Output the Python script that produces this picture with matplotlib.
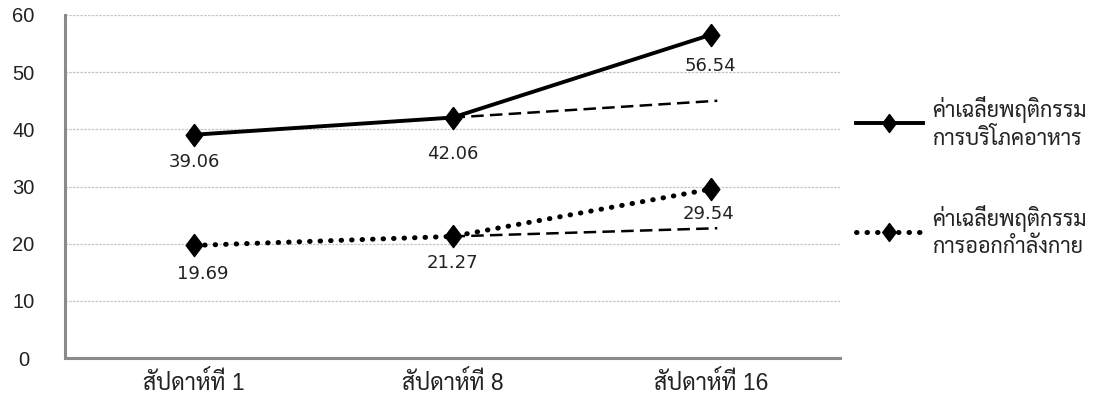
import matplotlib
matplotlib.use('Agg')
import os
import matplotlib.pyplot as plt
from matplotlib import font_manager
from matplotlib.ft2font import FT2Font
from matplotlib.lines import Line2D

# Data
weeks = ['สัปดาห์ที่ 1', 'สัปดาห์ที่ 8', 'สัปดาห์ที่ 16']
food = [39.06, 42.06, 56.54]
exercise = [19.69, 21.27, 29.54]
trend_x = [1, 2.025]
food_trend = [42.06, 45.0]
exercise_trend = [21.27, 22.7]
series_names = ['ค่าเฉลี่ยพฤติกรรม\nการบริโภคอาหาร', 'ค่าเฉลี่ยพฤติกรรม\nการออกกำลังกาย']
yticks = [0, 10, 20, 30, 40, 50, 60]


def find_thai_font():
    # pick an installed font with Thai glyphs, preferring plain looped faces
    thai = []
    for path in font_manager.findSystemFonts():
        try:
            cmap = FT2Font(path).get_charmap()
        except Exception:
            continue
        if 0x0E2A in cmap and 0x0E31 in cmap:
            thai.append(path)
    prefs = ['Sarabun-Regular', 'NotoSansThaiLooped-Regular', 'IBMPlexSansThaiLooped-Regular',
             'NotoSansThai-Regular', 'IBMPlexSansThai-Regular', 'BaiJamjuree-Regular']
    for pref in prefs:
        for p in thai:
            if os.path.basename(p).startswith(pref):
                return p
    for p in thai:
        if 'Regular' in p and 'unifont' not in p:
            return p
    return thai[0] if thai else None


thai_path = find_thai_font()
thai_fams = ['Liberation Sans', 'DejaVu Sans']
if thai_path:
    font_manager.fontManager.addfont(thai_path)
    thai_name = font_manager.FontProperties(fname=thai_path).get_name()
    thai_fams = ['Liberation Sans', thai_name, 'DejaVu Sans']
plt.rcParams['font.family'] = thai_fams

fig = plt.figure(figsize=(10.97, 3.99), dpi=100)
ax = fig.add_axes([65 / 1097, 41 / 399, 775 / 1097, 343 / 399])

diamond = [(0, 1), (0.75, 0), (0, -1), (-0.75, 0), (0, 1)]
x = list(range(len(weeks)))
ax.plot(x, food, color='black', linewidth=2.8, marker=diamond, markersize=16, zorder=3)
ax.plot(x, exercise, color='black', linewidth=3.6, linestyle=(0, (0.1, 2)),
        dash_capstyle='round', marker=diamond, markersize=16, zorder=3)
ax.plot(trend_x, food_trend, color='black', linewidth=1.8, linestyle=(0, (5, 2.5)), zorder=2)
ax.plot(trend_x, exercise_trend, color='black', linewidth=1.8, linestyle=(0, (5, 2.5)), zorder=2)

num_font = dict(fontsize=13, color='#222222', family='DejaVu Sans')
food_off = [-4.8, -6.4, -5.4]
ex_off = [-5.0, -4.7, -4.4]
ex_xoff = [0.035, 0.0, -0.01]
for i in x:
    ax.text(i, food[i] + food_off[i], f'{food[i]:.2f}', ha='center', va='center', **num_font)
    ax.text(i + ex_xoff[i], exercise[i] + ex_off[i], f'{exercise[i]:.2f}',
            ha='center', va='center', **num_font)

ax.set_xlim(-0.5, 2.5)
ax.set_ylim(0, 60)
ax.set_yticks(yticks)
ax.set_xticks(x)
ax.set_xticklabels(weeks, fontsize=16.5, color='#222222')
ax.tick_params(axis='y', length=0, pad=30, labelsize=14.5, labelcolor='#222222')
ax.tick_params(axis='x', length=0, pad=9)
for lbl in ax.get_yticklabels():
    lbl.set_horizontalalignment('center')

ax.grid(axis='y', color='#c4c4c4', linestyle=(0, (2, 1)), linewidth=0.9)
ax.set_axisbelow(True)
for side in ['top', 'right']:
    ax.spines[side].set_visible(False)
for side in ['left', 'bottom']:
    ax.spines[side].set_color('#8a8a8a')
    ax.spines[side].set_linewidth(2.2)

handles = [
    Line2D([], [], color='black', linewidth=2.8, marker=diamond, markersize=13),
    Line2D([], [], color='black', linewidth=3.6, linestyle=(0, (0.1, 2)),
           dash_capstyle='round', marker=diamond, markersize=13),
]
leg = fig.legend(handles, series_names, loc='upper left', bbox_to_anchor=(845 / 1097, 1 - 85 / 399),
                 frameon=False, fontsize=15.5, handlelength=3.1, labelspacing=2.55,
                 handletextpad=0.45, borderpad=0)
for t in leg.get_texts():
    t.set_color('#222222')
    t.set_linespacing(1.3)

fig.savefig('out.png', dpi=100)
